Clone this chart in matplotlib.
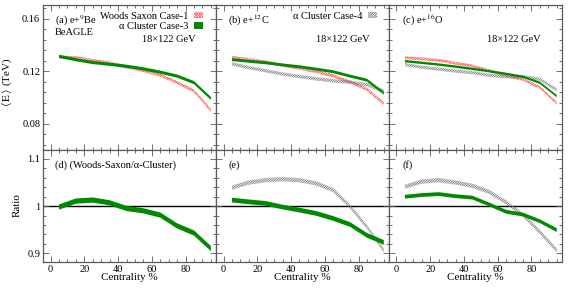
import numpy as np
import matplotlib
matplotlib.use('Agg')
import matplotlib.pyplot as plt
from matplotlib.patches import Patch
from matplotlib.ticker import MultipleLocator, FuncFormatter

plt.rcParams['font.family'] = ['Liberation Serif', 'DejaVu Serif']
plt.rcParams['mathtext.fontset'] = 'stix'
plt.rcParams['hatch.linewidth'] = 0.6

# centrality bins (%)
cent = np.array([5, 15, 25, 35, 45, 55, 65, 75, 85, 95])

# <E> (TeV), e+9Be
be_ws = np.array([0.1312, 0.1304, 0.1284, 0.1264, 0.1234, 0.1208, 0.1172, 0.1116, 0.1051, 0.0905])
be_clu3 = np.array([0.1315, 0.1290, 0.1268, 0.1255, 0.1240, 0.1220, 0.1195, 0.1165, 0.1115, 0.0995])
be_ratio3 = np.array([0.998, 1.0106, 1.0128, 1.007, 0.995, 0.990, 0.981, 0.958, 0.943, 0.910])

# <E> (TeV), e+12C
c_ws = np.array([0.1307, 0.1290, 0.1272, 0.1248, 0.1225, 0.1199, 0.1167, 0.1120, 0.1064, 0.0955])
c_clu3 = np.array([0.1290, 0.1278, 0.1266, 0.1250, 0.1236, 0.1218, 0.1198, 0.1165, 0.1134, 0.1035])
c_clu4 = np.array([0.1258, 0.1229, 0.1206, 0.1181, 0.1161, 0.1144, 0.1129, 0.1118, 0.1100, 0.1050])
c_ratio3 = np.array([1.0128, 1.009, 1.0057, 0.998, 0.9915, 0.9844, 0.9738, 0.961, 0.938, 0.923])
c_ratio4 = np.array([1.039, 1.050, 1.055, 1.057, 1.055, 1.048, 1.034, 0.999, 0.956, 0.906])

# <E> (TeV), e+16O
o_ws = np.array([0.1304, 0.1296, 0.1285, 0.1263, 0.1242, 0.1206, 0.1168, 0.1139, 0.1078, 0.0960])
o_clu3 = np.array([0.1279, 0.1266, 0.1253, 0.1237, 0.1220, 0.1202, 0.1182, 0.1160, 0.1114, 0.1012])
o_clu4 = np.array([0.1253, 0.1232, 0.1218, 0.1203, 0.1191, 0.1171, 0.1159, 0.1161, 0.1141, 0.1060])
o_ratio3 = np.array([1.0198, 1.0234, 1.0255, 1.021, 1.018, 1.0035, 0.988, 0.982, 0.968, 0.949])
o_ratio4 = np.array([1.041, 1.052, 1.055, 1.050, 1.043, 1.030, 1.008, 0.981, 0.945, 0.906])

green = '#008a00'
red = '#ff7070'
grey = '0.45'
red_hatch = 'x' * 12
grey_hatch = '/' * 14


def band(ax, y, e, kind):
    if kind == 'green':
        return ax.fill_between(cent, y - e, y + e, facecolor=green, edgecolor='none', lw=0, zorder=3)
    if kind == 'red':
        return ax.fill_between(cent, y - e, y + e, facecolor='none', edgecolor=red, hatch=red_hatch, lw=0, zorder=2)
    return ax.fill_between(cent, y - e, y + e, facecolor='none', edgecolor=grey, hatch=grey_hatch, lw=0, zorder=2)


fig, axes = plt.subplots(2, 3, figsize=(5.81, 2.91), dpi=100, sharex=True, sharey='row',
                         gridspec_kw={'height_ratios': [145, 112], 'hspace': 0, 'wspace': 0})
fig.subplots_adjust(left=0.074, right=0.967, top=0.983, bottom=0.0997)

# top row
band(axes[0, 0], be_ws, 0.0012, 'red')
band(axes[0, 0], be_clu3, 0.0012, 'green')
band(axes[0, 1], c_ws, 0.0012, 'red')
band(axes[0, 1], c_clu4, 0.0013, 'grey')
band(axes[0, 1], c_clu3, 0.0011, 'green')
band(axes[0, 2], o_ws, 0.0011, 'red')
band(axes[0, 2], o_clu4, 0.0012, 'grey')
band(axes[0, 2], o_clu3, 0.0009, 'green')

# ratio row
band(axes[1, 0], be_ratio3, 0.0055, 'green')
band(axes[1, 1], c_ratio4, 0.0045, 'grey')
band(axes[1, 1], c_ratio3, 0.005, 'green')
band(axes[1, 2], o_ratio4, 0.0045, 'grey')
band(axes[1, 2], o_ratio3, 0.004, 'green')

for ax in axes[1]:
    ax.axhline(1, color='black', lw=1, zorder=1)

for ax in axes.flat:
    ax.set_xlim(-4.5, 98)
    ax.xaxis.set_major_locator(MultipleLocator(20))
    ax.xaxis.set_minor_locator(MultipleLocator(5))
    ax.tick_params(which='both', direction='in', top=True, right=True, labelsize=7.5, color='0.35', pad=2)
    ax.tick_params(which='major', length=4, width=0.6)
    ax.tick_params(which='minor', length=2, width=0.6)
    for s in ax.spines.values():
        s.set_color('0.35')
        s.set_linewidth(0.9)

axes[0, 0].set_ylim(0.0602, 0.1707)
axes[0, 0].yaxis.set_major_locator(MultipleLocator(0.04))
axes[0, 0].yaxis.set_minor_locator(MultipleLocator(0.008))
axes[0, 0].yaxis.set_major_formatter(FuncFormatter(lambda v, p: '%.2f' % v))
axes[1, 0].set_ylim(0.8815, 1.119)
axes[1, 0].yaxis.set_major_locator(MultipleLocator(0.1))
axes[1, 0].yaxis.set_minor_locator(MultipleLocator(0.02))
axes[1, 0].yaxis.set_major_formatter(FuncFormatter(lambda v, p: '%g' % round(v, 2)))

axes[0, 0].set_ylabel(r'$\langle\,\mathrm{E}\,\rangle$ (TeV)', fontsize=8)
axes[0, 0].yaxis.set_label_coords(-0.165, 0.47)
axes[1, 0].set_ylabel('Ratio', fontsize=8)
axes[1, 0].yaxis.set_label_coords(-0.125, 0.51)
for ax in axes[1]:
    ax.set_xlabel('Centrality %', fontsize=8)
    ax.xaxis.set_label_coords(0.5, -0.1)

# panel text
fs = 7.5
axes[0, 0].text(0.07, 0.89, r'(a) e+$^{9}$Be', transform=axes[0, 0].transAxes, fontsize=fs, va='center')
axes[0, 0].text(0.07, 0.81, 'BeAGLE', transform=axes[0, 0].transAxes, fontsize=fs, va='center')
axes[0, 1].text(0.07, 0.89, r'(b) e+$^{12}$C', transform=axes[0, 1].transAxes, fontsize=fs, va='center')
axes[0, 2].text(0.075, 0.89, r'(c) e+$^{16}$O', transform=axes[0, 2].transAxes, fontsize=fs, va='center')
for ax, xc in zip(axes[0], [0.728, 0.733, 0.724]):
    ax.text(xc, 0.76, '18×122 GeV', transform=ax.transAxes, fontsize=fs, ha='center', va='center')
axes[1, 0].text(0.07, 0.865, '(d) (Woods-Saxon/α-Cluster)', transform=axes[1, 0].transAxes, fontsize=fs, va='center')
axes[1, 1].text(0.07, 0.865, '(e)', transform=axes[1, 1].transAxes, fontsize=fs, va='center')
axes[1, 2].text(0.08, 0.865, '(f)', transform=axes[1, 2].transAxes, fontsize=fs, va='center')

# legends
h_ws = Patch(facecolor='none', edgecolor=red, hatch=red_hatch, lw=0)
h_c3 = Patch(facecolor=green, edgecolor='none')
h_c4 = Patch(facecolor='none', edgecolor=grey, hatch=grey_hatch, lw=0)
axes[0, 0].legend([h_ws, h_c3], ['Woods Saxon Case-1', 'α Cluster Case-3'], loc='upper right',
                  bbox_to_anchor=(0.975, 1.01), markerfirst=False, frameon=False, fontsize=fs,
                  handlelength=0.9, handleheight=0.6, handletextpad=0.5, labelspacing=0.15, borderpad=0.3)
axes[0, 1].legend([h_c4], ['α Cluster Case-4'], loc='upper right',
                  bbox_to_anchor=(0.98, 1.01), markerfirst=False, frameon=False, fontsize=fs,
                  handlelength=0.9, handleheight=0.6, handletextpad=0.5, borderpad=0.3)

plt.savefig('out.png', dpi=100)
